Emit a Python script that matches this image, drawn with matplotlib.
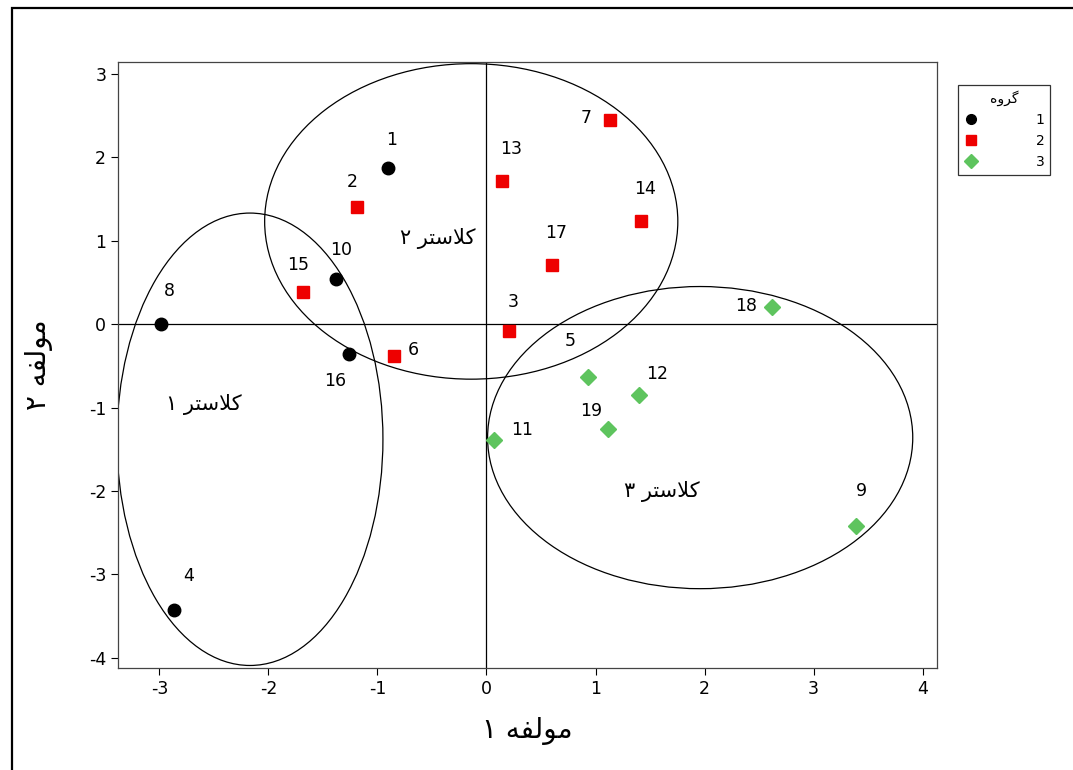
import numpy as np
import matplotlib
matplotlib.use("Agg")
import matplotlib.pyplot as plt
from matplotlib.patches import Ellipse, Rectangle
from matplotlib.lines import Line2D

plt.rcParams["axes.unicode_minus"] = False

# ---------------------------------------------------------------------------
# data
# ---------------------------------------------------------------------------
ids = [1, 2, 3, 4, 5, 6, 7, 8, 9, 10, 11, 12, 13, 14, 15, 16, 17, 18, 19]
comp1 = [-0.90, -1.19, 0.21, -2.87, 0.93, -0.85, 1.13, -2.99, 3.39, -1.38,
         0.07, 1.40, 0.14, 1.42, -1.68, -1.26, 0.60, 2.62, 1.11]
comp2 = [1.87, 1.40, -0.08, -3.43, -0.63, -0.38, 2.45, 0.00, -2.42, 0.54,
         -1.39, -0.85, 1.71, 1.23, 0.39, -0.36, 0.71, 0.20, -1.26]
group = [1, 2, 2, 1, 3, 2, 2, 1, 3, 1, 3, 3, 2, 2, 2, 1, 2, 3, 3]

# cluster ellipses: centre x, centre y, width, height
clust_cx = [-2.17, -0.14, 1.96]
clust_cy = [-1.38, 1.23, -1.36]
clust_w = [2.44, 3.79, 3.90]
clust_h = [5.42, 3.78, 3.62]
clust_lx = [-2.59, -0.45, 1.61]
clust_ly = [-0.96, 1.02, -2.00]

# Persian text, pre-shaped into visual order (matplotlib has no bidi/shaping)
clust_word = "\uFEAE\uFE98\uFEB3\uFEFC\uFB90"          # کلاستر
fa_digits = ["\u06F1", "\u06F2", "\u06F3"]
clust_text = [d + " " + clust_word for d in fa_digits]
xlab = "\u06F1 " + "\uFEEA\uFED4\uFEDF\uFEEE\uFEE3"    # مولفه ۱
ylab = "\u06F2 " + "\uFEEA\uFED4\uFEDF\uFEEE\uFEE3"    # مولفه ۲
legend_title = "\uFEE9\uFEED\uFEAE\uFB94"              # گروه

xticks = [-3, -2, -1, 0, 1, 2, 3, 4]
yticks = [-4, -3, -2, -1, 0, 1, 2, 3]

# ---------------------------------------------------------------------------
# styles
# ---------------------------------------------------------------------------
g_marker = {1: "o", 2: "s", 3: "D"}
g_color = {1: "black", 2: "#ee0000", 3: "#5ec45e"}
g_size = {1: 9, 2: 9, 3: 8.5}

# label offsets in points (dx, dy)
lab_off = {1: (2, 20), 2: (-3, 18), 3: (3, 21), 4: (11, 25), 5: (-13, 26),
           6: (14, 4), 7: (-17, 1), 8: (6, 24), 9: (4, 25), 10: (4, 21),
           11: (20, 7), 12: (13, 15), 13: (7, 23), 14: (3, 23), 15: (-4, 19),
           16: (-10, -19), 17: (3, 23), 18: (-19, 1), 19: (-12, 13)}

FA = ["DejaVu Sans"]

fig = plt.figure(figsize=(10.73, 7.70), dpi=100)
fig.patch.set_facecolor("white")

# outer frame (cropped at right / bottom in the reference)
fig.add_artist(Rectangle((12 / 1073, -0.05), 1.2, 1 - 8 / 770 + 0.05,
                         transform=fig.transFigure, fill=False,
                         edgecolor="black", linewidth=1.6))

ax = fig.add_axes([0.110, 0.1325, 0.763, 0.787])
ax.set_xlim(-3.38, 4.13)
ax.set_ylim(-4.12, 3.14)

ax.axhline(0, color="black", linewidth=0.9, zorder=1)
ax.axvline(0, color="black", linewidth=0.9, zorder=1)

for cx, cy, w, h in zip(clust_cx, clust_cy, clust_w, clust_h):
    ax.add_patch(Ellipse((cx, cy), w, h, fill=False, edgecolor="black",
                         linewidth=0.9, zorder=2))

for lx, ly, t in zip(clust_lx, clust_ly, clust_text):
    ax.text(lx, ly, t, ha="center", va="center", fontsize=15,
            family=FA, zorder=3)

for i, x, y, g in zip(ids, comp1, comp2, group):
    ax.plot(x, y, marker=g_marker[g], color=g_color[g], markersize=g_size[g],
            linestyle="none", zorder=4)
    dx, dy = lab_off[i]
    ax.annotate(str(i), (x, y), xytext=(dx, dy), textcoords="offset points",
                ha="center", va="center", fontsize=12.5, zorder=5)

ax.set_xticks(xticks)
ax.set_yticks(yticks)
ax.tick_params(direction="out", length=5, width=0.8, labelsize=12.5,
               colors="black")
for s in ax.spines.values():
    s.set_linewidth(0.9)
    s.set_color("#444444")

ax.set_xlabel(xlab, fontsize=20, family=FA, labelpad=14)
ax.set_ylabel(ylab, fontsize=20, family=FA, labelpad=26)

# legend
handles = [Line2D([], [], marker=g_marker[g], color=g_color[g],
                  markersize=7, linestyle="none") for g in (1, 2, 3)]
leg = fig.legend(handles, ["1", "2", "3"], loc="upper left",
                 bbox_to_anchor=(958 / 1073, 1 - 85 / 770),
                 borderaxespad=0, frameon=True, fancybox=False,
                 edgecolor="black", fontsize=10, title=legend_title,
                 title_fontsize=10, handletextpad=4.2, borderpad=0.4,
                 labelspacing=0.5, handlelength=1.0, markerfirst=True)
leg.get_frame().set_linewidth(0.9)
leg.get_title().set_family(FA)

fig.savefig("out.png", dpi=100)
